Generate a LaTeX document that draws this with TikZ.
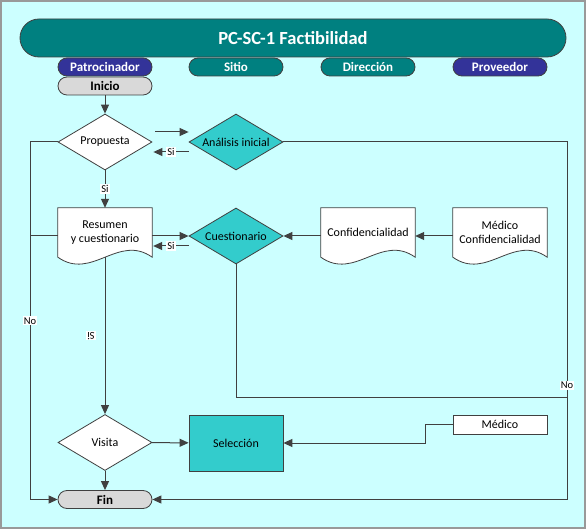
\documentclass[tikz,border=0pt]{standalone}
\usepackage{fontspec}
\setmainfont{Carlito}
\usetikzlibrary{shapes.geometric,arrows.meta}
\definecolor{fondo}{HTML}{CCFFFF}
\definecolor{verdeazul}{HTML}{008080}
\definecolor{azulosc}{HTML}{333399}
\definecolor{turquesa}{HTML}{33CCCC}
\definecolor{grisfin}{HTML}{D9D9D9}
\definecolor{trazo}{HTML}{404040}
\definecolor{marco}{HTML}{999999}
\newcommand{\texto}{\fontsize{12}{13.5}\selectfont}
\pgfdeclarelayer{capafondo}
\pgfsetlayers{capafondo,main}
% hoja con borde ondulado
\newcommand{\hoja}[1]{\draw[trazo, line width=0.8pt, fill=white] (#1.south west) -- (#1.north west) -- (#1.north east) -- (#1.south east) .. controls +(-34,-24) and +(34,24) .. (#1.south west) -- cycle;}
\begin{document}
\begin{tikzpicture}[x=1pt, y=-1pt,
    >={Triangle[length=9pt,width=8pt]},
    linea/.style={draw=trazo, line width=1pt},
    flecha/.style={linea, ->},
    cabecera/.style={rectangle, rounded corners=9pt, draw=trazo, line width=0.8pt, minimum width=94pt, minimum height=18pt, inner sep=0pt, text=white, font=\bfseries\fontsize{13}{13}\selectfont},
    terminal/.style={cabecera, fill=grisfin, text=black},
    decision/.style={diamond, aspect=1.7, draw=trazo, line width=0.8pt, minimum width=94pt, minimum height=56pt, inner sep=0pt, font=\texto},
    documento/.style={rectangle, minimum width=94pt, minimum height=49pt, inner sep=0pt, align=center, font=\texto},
    proceso/.style={rectangle, draw=trazo, line width=0.8pt, minimum width=94pt, inner sep=0pt, font=\texto},
    etiqueta/.style={fill=white, inner sep=1pt, font=\fontsize{10.5}{10.5}\selectfont}]
    \useasboundingbox (0,0) rectangle (586,529);
    \begin{pgfonlayer}{capafondo}
        \draw[marco, line width=1.5pt, fill=fondo] (1,1) rectangle (585,528);
    \end{pgfonlayer}

    % titulo y carriles
    \node[cabecera, rounded corners=19pt, minimum width=546pt, minimum height=38pt, fill=verdeazul, font=\bfseries\fontsize{18.5}{20}\selectfont] (titulo) at (293,38) {PC-SC-1 Factibilidad};
    \node[cabecera, fill=azulosc] (patro) at (105,67) {Patrocinador};
    \node[cabecera, fill=verdeazul] (sitio) at (236,67) {Sitio};
    \node[cabecera, fill=verdeazul] (direc) at (368,67) {Dirección};
    \node[cabecera, fill=azulosc] (prove) at (500,67) {Proveedor};

    % pasos
    \node[terminal] (inicio) at (105,86) {Inicio};
    \node[decision, fill=white] (propuesta) at (105,142) {Propuesta};
    \node[decision, fill=turquesa] (analisis) at (236,142) {Análisis inicial};
    \node[documento] (resumen) at (105,232.5) {Resumen\\y cuestionario};
    \node[decision, fill=turquesa] (cuestionario) at (236,236) {Cuestionario};
    \node[documento] (conf) at (368,232.5) {Confidencialidad};
    \node[documento] (medconf) at (500,232.5) {Médico\\Confidencialidad};
    \node[decision, fill=white] (visita) at (105,442.5) {Visita};
    \node[proceso, fill=turquesa, minimum height=56pt] (seleccion) at (236,443) {Selección};
    \node[proceso, fill=white, minimum height=19pt] (medico) at (500,424.5) {Médico};
    \node[terminal] (fin) at (105,499.5) {Fin};

    \begin{pgfonlayer}{capafondo}
        \hoja{resumen}
        \hoja{conf}
        \hoja{medconf}
    \end{pgfonlayer}

    % esquinas
    \coordinate (esqSO) at (30,499.5);
    \coordinate (esqSE) at (567,499.5);
    \coordinate (esqCE) at (567,397);
    \coordinate (quiebre) at (425,433);

    % flechas
    \draw[flecha] (inicio) -- (propuesta);
    \draw[flecha] ([xshift=3pt,yshift=10pt]propuesta.east) -- ([yshift=10pt]analisis.west);
    \draw[flecha] ([yshift=-10pt]analisis.west) -- node[etiqueta] {Si} ([xshift=1pt,yshift=-10pt]propuesta.east);
    \draw[flecha] (analisis.east) -| node[etiqueta, pos=0.84] {No} (esqSE) -- (fin.east);
    \draw[linea] (cuestionario.south) |- (esqCE);
    \draw[flecha] (propuesta.west) -| node[etiqueta, pos=0.75] {No} (esqSO) -- (fin.west);
    \draw[linea] (resumen.west |- cuestionario.west) -- (esqSO |- cuestionario.west);
    \draw[flecha] (propuesta) -- node[etiqueta] {Si} (resumen);
    \draw[flecha] (resumen.east |- cuestionario.west) -- (cuestionario.west);
    \draw[flecha] ([yshift=-10pt]cuestionario.west) -- node[etiqueta] {Si} ([xshift=1pt,yshift=-10pt]resumen.east |- cuestionario.west);
    \draw[flecha] (conf.west |- cuestionario.east) -- (cuestionario.east);
    \draw[flecha] (medconf.west |- cuestionario.east) -- (conf.east |- cuestionario.east);
    \draw[flecha] (resumen.south) -- node[etiqueta, xshift=-14pt, rotate=180] {Si} (visita.north);
    \draw[flecha] (visita) -- (seleccion);
    \draw[flecha] (medico.west) -- (medico.west -| quiebre) -- (quiebre |- seleccion.east) -- (seleccion.east);
    \draw[flecha] (visita) -- (fin);
\end{tikzpicture}
\end{document}
